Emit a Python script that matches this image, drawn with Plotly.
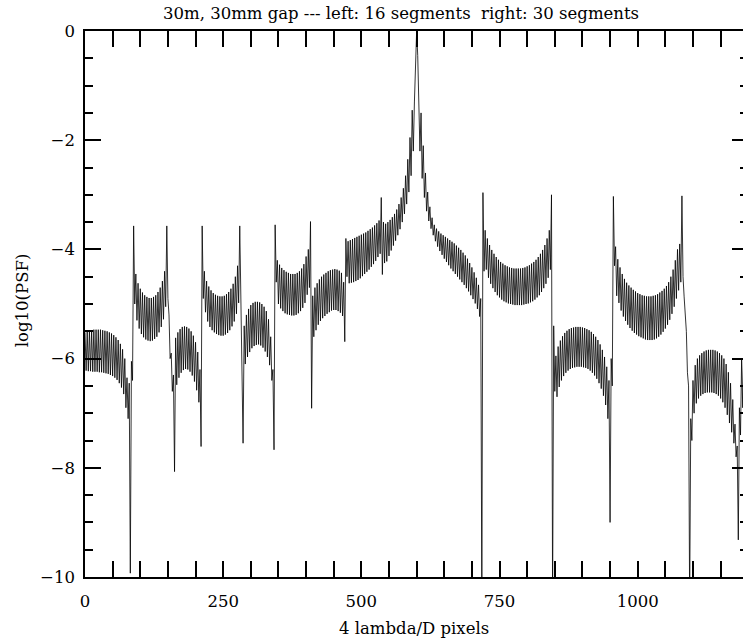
import plotly.graph_objects as go

# ---------------------------------------------------------------------------
# PSF profile.  One fringe (Airy ring) = 4 samples.
# For every fringe k the value at sample 4k ("a") and at sample 4k+2 ("b").
# ---------------------------------------------------------------------------
# left half: 16 segments
L0_a = [-5.52,-5.50,-5.49,-5.48,-5.47,-5.47,-5.47,-5.47,-5.48,-5.49,-5.50,-5.52,-5.54,-5.57,-5.61,-5.66,-5.73,-5.83,-6.00,-6.35]
L0_b = [-6.22,-6.23,-6.23,-6.24,-6.24,-6.24,-6.25,-6.25,-6.26,-6.27,-6.28,-6.30,-6.32,-6.35,-6.39,-6.45,-6.53,-6.65,-6.90,-7.10]
A_a = [-6.45,-6.05,-3.57]
A_b = [-9.93,-6.40,-5.00]
L1_a = [-4.45,-4.62,-4.72,-4.79,-4.84,-4.87,-4.89,-4.89,-4.87,-4.84,-4.78,-4.70,-4.58,-4.40]
L1_b = [-5.30,-5.45,-5.55,-5.61,-5.65,-5.67,-5.68,-5.67,-5.64,-5.60,-5.52,-5.42,-5.28,-5.05]
B_a = [-3.57,-5.20,-5.90,-6.30]
B_b = [-4.90,-6.00,-6.60,-8.07]
L2_a = [-5.62,-5.52,-5.46,-5.42,-5.41,-5.42,-5.45,-5.50,-5.58,-5.70,-5.88]
L2_b = [-6.48,-6.35,-6.26,-6.21,-6.19,-6.20,-6.24,-6.31,-6.42,-6.58,-6.80]
C_a = [-6.20,-3.57]
C_b = [-7.61,-4.90]
L3_a = [-4.40,-4.58,-4.68,-4.75,-4.80,-4.83,-4.85,-4.86,-4.86,-4.85,-4.82,-4.78,-4.72,-4.63,-4.50,-4.30]
L3_b = [-5.15,-5.32,-5.42,-5.48,-5.52,-5.55,-5.57,-5.58,-5.58,-5.56,-5.53,-5.48,-5.41,-5.32,-5.18,-4.98]
D_a = [-3.57,-5.60]
D_b = [-5.00,-7.55]
L4_a = [-5.40,-5.20,-5.09,-5.02,-4.98,-4.96,-4.96,-4.97,-5.00,-5.05,-5.13,-5.28]
L4_b = [-6.10,-5.97,-5.88,-5.81,-5.77,-5.75,-5.74,-5.76,-5.80,-5.87,-5.97,-6.12]
E_a = [-5.60,-6.20,-3.55]
E_b = [-6.40,-7.67,-4.60]
L5_a = [-4.20,-4.28,-4.34,-4.38,-4.41,-4.43,-4.45,-4.45,-4.45,-4.43,-4.40,-4.35,-4.27,-4.13]
L5_b = [-5.00,-5.08,-5.13,-5.17,-5.19,-5.20,-5.21,-5.21,-5.20,-5.17,-5.13,-5.07,-4.98,-4.83]
F_a = [-4.00,-3.49,-4.85]
F_b = [-4.70,-6.91,-5.60]
L6_a = [-4.70,-4.62,-4.55,-4.50,-4.46,-4.43,-4.40,-4.38,-4.37,-4.36,-4.37,-4.39,-4.43]
L6_b = [-5.48,-5.38,-5.31,-5.26,-5.22,-5.18,-5.15,-5.12,-5.11,-5.11,-5.13,-5.16,-5.22]
G_a = [-4.60,-3.80]
G_b = [-5.69,-4.50]
L7_a = [-3.85,-3.83,-3.81,-3.79,-3.77,-3.75,-3.73,-3.71,-3.69,-3.66,-3.63,-3.60,-3.56,-3.52,-3.47]
L7_b = [-4.62,-4.61,-4.60,-4.58,-4.56,-4.53,-4.49,-4.45,-4.41,-4.37,-4.32,-4.27,-4.21,-4.14,-4.08]
H_a = [-3.05,-3.50]
H_b = [-4.46,-4.25]
CL_a = [-3.53,-3.50,-3.46,-3.41,-3.35,-3.27,-3.17,-3.05,-2.88,-2.65,-2.35,-1.95,-1.45,-1.30]
CL_b = [-4.22,-4.12,-4.02,-3.93,-3.84,-3.74,-3.63,-3.50,-3.35,-3.17,-2.95,-2.65,-2.20,-0.45]
# central peak
CP_a = [0.0]
CP_b = [-0.45]
# right half: 30 segments
CR_a = [-1.30,-1.50,-2.10,-2.60,-2.95,-3.22,-3.42,-3.55,-3.62,-3.67,-3.71,-3.74,-3.77,-3.80,
        -3.83,-3.86,-3.89,-3.93,-3.97,-4.01,-4.06,-4.11,-4.17,-4.25,-4.33,-4.42,-4.52,-4.65]
CR_b = [-2.20,-2.70,-3.05,-3.30,-3.48,-3.62,-3.74,-3.85,-3.95,-4.03,-4.10,-4.17,-4.23,-4.29,
        -4.35,-4.40,-4.45,-4.50,-4.55,-4.60,-4.65,-4.71,-4.77,-4.84,-4.91,-4.99,-5.09,-5.23]
I_a = [-4.90,-2.96]
I_b = [-10.5,-4.40]
R2_a = [-3.65,-3.80,-3.92,-4.01,-4.08,-4.14,-4.19,-4.23,-4.26,-4.29,-4.31,-4.33,-4.34,-4.35,-4.35,
        -4.35,-4.35,-4.34,-4.33,-4.31,-4.29,-4.26,-4.23,-4.19,-4.14,-4.08,-4.01,-3.92,-3.80,-3.65]
R2_b = [-4.37,-4.52,-4.63,-4.71,-4.78,-4.84,-4.88,-4.92,-4.95,-4.97,-4.99,-5.00,-5.01,-5.02,-5.02,
        -5.02,-5.02,-5.01,-5.00,-4.99,-4.97,-4.95,-4.92,-4.88,-4.84,-4.78,-4.71,-4.63,-4.52,-4.37]
J_a = [-3.00,-5.40]
J_b = [-10.5,-6.60]
R3_a = [-5.95,-5.78,-5.67,-5.59,-5.53,-5.49,-5.46,-5.44,-5.43,-5.42,-5.42,-5.42,
        -5.43,-5.44,-5.46,-5.48,-5.51,-5.55,-5.60,-5.66,-5.74,-5.84,-5.97,-6.15]
R3_b = [-6.70,-6.52,-6.40,-6.32,-6.26,-6.22,-6.19,-6.17,-6.16,-6.15,-6.15,-6.15,
        -6.16,-6.17,-6.19,-6.22,-6.26,-6.31,-6.37,-6.45,-6.55,-6.68,-6.85,-7.10]
K_a = [-6.40,-6.00,-3.03]
K_b = [-9.00,-6.50,-4.30]
R4_a = [-3.95,-4.18,-4.33,-4.45,-4.54,-4.61,-4.66,-4.70,-4.74,-4.77,-4.80,-4.82,-4.84,-4.85,-4.86,
        -4.86,-4.86,-4.85,-4.84,-4.82,-4.79,-4.76,-4.72,-4.67,-4.60,-4.50,-4.37,-4.20,-4.00]
R4_b = [-4.85,-4.98,-5.12,-5.23,-5.31,-5.38,-5.44,-5.49,-5.53,-5.56,-5.59,-5.61,-5.63,-5.65,-5.66,
        -5.66,-5.66,-5.65,-5.63,-5.60,-5.56,-5.51,-5.45,-5.38,-5.29,-5.18,-5.05,-4.90,-4.75]
Lr_a = [-3.90,-3.02,-4.87,-5.50,-6.50]
Lr_b = [-4.60,-4.50,-5.16,-6.26,-10.5]
R5_a = [-7.10,-6.40,-6.12,-6.00,-5.94,-5.90,-5.87,-5.85,-5.84,-5.84,-5.84,
        -5.85,-5.87,-5.90,-5.94,-6.00,-6.10,-6.25,-6.45,-6.75,-7.20]
R5_b = [-7.50,-7.00,-6.82,-6.73,-6.68,-6.65,-6.63,-6.62,-6.62,-6.62,-6.63,
        -6.65,-6.68,-6.73,-6.80,-6.90,-7.03,-7.18,-7.35,-7.55,-7.80]
M_a = [-7.60,-6.90,-6.00,-5.70,-5.60]
M_b = [-9.32,-7.40,-6.90,-6.70,-6.60]

psf_a = (L0_a + A_a + L1_a + B_a + L2_a + C_a + L3_a + D_a + L4_a + E_a + L5_a + F_a + L6_a
         + G_a + L7_a + H_a + CL_a + CP_a + CR_a + I_a + R2_a + J_a + R3_a + K_a + R4_a
         + Lr_a + R5_a + M_a)
psf_b = (L0_b + A_b + L1_b + B_b + L2_b + C_b + L3_b + D_b + L4_b + E_b + L5_b + F_b + L6_b
         + G_b + L7_b + H_b + CL_b + CP_b + CR_b + I_b + R2_b + J_b + R3_b + K_b + R4_b
         + Lr_b + R5_b + M_b)

pix = []
logpsf = []
for k, (va, vb) in enumerate(zip(psf_a, psf_b)):
    pix += [4 * k, 4 * k + 2]
    logpsf += [va, vb]

TITLE = "30m, 30mm gap --- left: 16 segments \u00a0right: 30 segments"
XLABEL = "4 lambda/D pixels"
YLABEL = "log10(PSF)"
FONT = "DejaVu Serif"
FS = 16.5

fig = go.Figure()
fig.add_trace(go.Scatter(x=pix, y=logpsf, mode="lines",
                         line=dict(color="#000000", width=0.8),
                         showlegend=False, hoverinfo="skip"))

axis_common = dict(
    showgrid=False, zeroline=False, showline=True, linecolor="black", linewidth=1.6,
    ticks="inside", tickcolor="black", tickwidth=1.6, ticklen=16,
    tickfont=dict(family=FONT, size=FS, color="black"),
)
fig.update_xaxes(range=[0, 1190.5], tickmode="array", tickvals=[0, 250, 500, 750, 1000],
                 mirror="allticks",
                 minor=dict(ticks="inside", ticklen=8, tickwidth=1.6, tickcolor="black", dtick=50, tick0=0),
                 ticklabelstandoff=8, **axis_common)
fig.update_yaxes(range=[-10, 0], tickmode="array", tickvals=[-10, -8, -6, -4, -2, 0],
                 ticktext=["\u221210", "\u22128", "\u22126", "\u22124", "\u22122", "0"],
                 mirror=False,
                 minor=dict(ticks="inside", ticklen=8, tickwidth=1.6, tickcolor="black", dtick=0.5, tick0=0),
                 ticklabelstandoff=5, **axis_common)

fig.update_layout(
    width=743, height=642,
    margin=dict(l=85, r=0, t=31, b=65),
    paper_bgcolor="white", plot_bgcolor="white",
    yaxis2=dict(overlaying="y", side="right", anchor="x", range=[-10, 0], showgrid=False,
                zeroline=False, showline=False, showticklabels=False,
                ticks="inside", tickvals=[-10, -8, -6, -4, -2, 0], ticklen=11, tickwidth=1.6,
                tickcolor="black",
                minor=dict(ticks="inside", ticklen=3, tickwidth=1.6, tickcolor="black", dtick=0.5, tick0=0)),
    annotations=[
        dict(text=TITLE, xref="paper", yref="paper", x=0.48, y=1, yshift=18, xanchor="center",
             yanchor="middle", showarrow=False, font=dict(family=FONT, size=FS, color="black")),
        dict(text=XLABEL, xref="paper", yref="paper", x=0.5, y=0, yshift=-51, xanchor="center",
             yanchor="middle", showarrow=False, font=dict(family=FONT, size=FS, color="black")),
        dict(text=YLABEL, xref="paper", yref="paper", x=0, xshift=-63, y=0.507, xanchor="center",
             yanchor="middle", textangle=-90, showarrow=False,
             font=dict(family=FONT, size=FS, color="black")),
    ],
)
fig.add_trace(go.Scatter(x=[None], y=[None], yaxis="y2", showlegend=False, hoverinfo="skip"))

fig.write_html("out.html", config={"displayModeBar": False},
               post_script="document.body.style.margin='0';document.body.style.overflow='hidden';")
